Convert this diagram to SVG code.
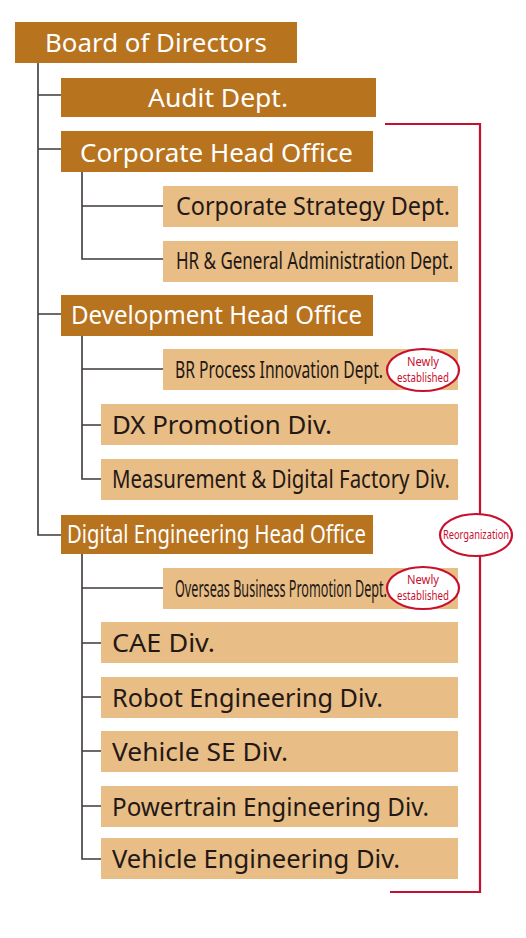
<svg xmlns="http://www.w3.org/2000/svg" width="526" height="938" viewBox="0 0 526 938">
<style>
.dark{fill:#b8731f}
.light{fill:#e8bd86}
.tw{font-family:"Noto Sans","Open Sans",sans-serif;fill:#ffffff;font-size:25.5px}
.tb{font-family:"Noto Sans","Open Sans",sans-serif;fill:#231815;font-size:25.5px}
.tn{font-family:"Noto Sans","Open Sans",sans-serif;fill:#231815;font-size:23px}
.ln{fill:none;stroke:#3e3a39;stroke-width:1.6}
.red{fill:none;stroke:#c8102e;stroke-width:2.2}
.oval{fill:#ffffff;stroke:#c8102e;stroke-width:2.2}
.tr{font-family:"Noto Sans","Open Sans",sans-serif;fill:#c8102e;font-size:12.5px;text-anchor:middle}
</style>
<rect width="526" height="938" fill="#ffffff"/>
<g id="connectors">
<path class="ln" d="M38 62 V535 H61 M38 95 H61 M38 149 H61 M38 314 H61"/>
<path class="ln" d="M82 172 V259 H163 M82 206 H163"/>
<path class="ln" d="M82 336 V479 H101 M82 369 H163 M82 425 H101"/>
<path class="ln" d="M82 554 V859 H101 M82 588 H163 M82 643 H101 M82 697 H101 M82 751 H101 M82 806 H101"/>
<path class="red" d="M385 124 H480 V892 H390"/>
</g>
<g id="board"><rect class="dark" x="15" y="22" width="282" height="41"/><text class="tw" x="45" y="52" textLength="222" lengthAdjust="spacingAndGlyphs">Board of Directors</text></g>
<g id="audit"><rect class="dark" x="61" y="78" width="315" height="39"/><text class="tw" x="148" y="107" textLength="140" lengthAdjust="spacingAndGlyphs">Audit Dept.</text></g>
<g id="corporate-ho"><rect class="dark" x="61" y="131" width="312" height="41"/><text class="tw" x="80" y="162" textLength="273" lengthAdjust="spacingAndGlyphs">Corporate Head Office</text></g>
<g id="corp-strategy"><rect class="light" x="163" y="186" width="295" height="41"/><text class="tb" x="176" y="215" textLength="274" lengthAdjust="spacingAndGlyphs">Corporate Strategy Dept.</text></g>
<g id="hr"><rect class="light" x="163" y="241" width="295" height="41"/><text class="tn" x="176" y="269" textLength="277" lengthAdjust="spacingAndGlyphs">HR &amp; General Administration Dept.</text></g>
<g id="development-ho"><rect class="dark" x="61" y="295" width="312" height="41"/><text class="tw" x="71" y="324" textLength="291" lengthAdjust="spacingAndGlyphs">Development Head Office</text></g>
<g id="br-process"><rect class="light" x="163" y="349" width="295" height="41"/><text class="tn" x="175" y="378" textLength="208" lengthAdjust="spacingAndGlyphs">BR Process Innovation Dept.</text>
<ellipse class="oval" cx="423" cy="370" rx="36" ry="21"/><text class="tr" x="423" y="366" textLength="32" lengthAdjust="spacingAndGlyphs">Newly</text><text class="tr" x="423" y="382" textLength="52" lengthAdjust="spacingAndGlyphs">established</text></g>
<g id="dx"><rect class="light" x="101" y="404" width="357" height="41"/><text class="tb" x="112" y="434" textLength="220" lengthAdjust="spacingAndGlyphs">DX Promotion Div.</text></g>
<g id="measurement"><rect class="light" x="101" y="459" width="357" height="41"/><text class="tb" x="112" y="488" textLength="338" lengthAdjust="spacingAndGlyphs">Measurement &amp; Digital Factory Div.</text></g>
<g id="digital-eng-ho"><rect class="dark" x="61" y="515" width="312" height="39"/><text class="tw" x="67" y="543" textLength="299" lengthAdjust="spacingAndGlyphs">Digital Engineering Head Office</text></g>
<g id="reorganization"><ellipse class="oval" cx="476" cy="535" rx="36" ry="21"/><text class="tr" x="476" y="539" textLength="66" lengthAdjust="spacingAndGlyphs">Reorganization</text></g>
<g id="overseas"><rect class="light" x="163" y="568" width="295" height="41"/><text class="tn" x="175" y="597" textLength="212" lengthAdjust="spacingAndGlyphs">Overseas Business Promotion Dept.</text>
<ellipse class="oval" cx="423" cy="588" rx="36" ry="21"/><text class="tr" x="423" y="584" textLength="32" lengthAdjust="spacingAndGlyphs">Newly</text><text class="tr" x="423" y="600" textLength="52" lengthAdjust="spacingAndGlyphs">established</text></g>
<g id="cae"><rect class="light" x="101" y="622" width="357" height="41"/><text class="tb" x="112" y="652" textLength="103" lengthAdjust="spacingAndGlyphs">CAE Div.</text></g>
<g id="robot"><rect class="light" x="101" y="677" width="357" height="41"/><text class="tb" x="112" y="707" textLength="271" lengthAdjust="spacingAndGlyphs">Robot Engineering Div.</text></g>
<g id="vehicle-se"><rect class="light" x="101" y="731" width="357" height="41"/><text class="tb" x="112" y="761" textLength="176" lengthAdjust="spacingAndGlyphs">Vehicle SE Div.</text></g>
<g id="powertrain"><rect class="light" x="101" y="786" width="357" height="41"/><text class="tb" x="112" y="816" textLength="317" lengthAdjust="spacingAndGlyphs">Powertrain Engineering Div.</text></g>
<g id="vehicle-eng"><rect class="light" x="101" y="838" width="357" height="41"/><text class="tb" x="112" y="868" textLength="288" lengthAdjust="spacingAndGlyphs">Vehicle Engineering Div.</text></g>
</svg>
